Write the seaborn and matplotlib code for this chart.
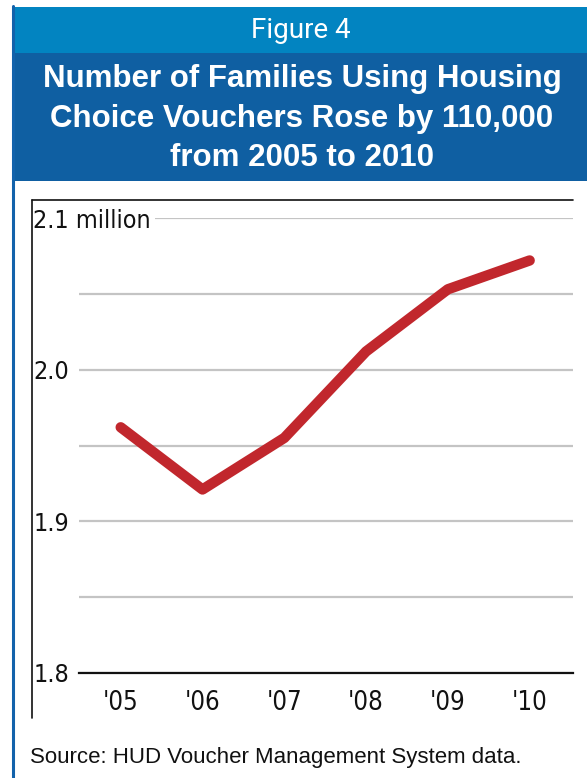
import pandas as pd
import matplotlib.pyplot as plt
import seaborn as sns
from matplotlib.patches import Rectangle
from matplotlib.lines import Line2D


# Families using housing choice vouchers (millions)
years = ["'05", "'06", "'07", "'08", "'09", "'10"]
families = [1.962, 1.921, 1.955, 2.012, 2.053, 2.072]
y_ticks = [1.8, 1.85, 1.9, 1.95, 2.0, 2.05, 2.1]
y_tick_labels = ['1.8', '', '1.9', '', '2.0', '', '2.1 million']

df = pd.DataFrame({'pos': range(len(years)), 'families': families})

W, H = 587, 778
sns.set_style('white')
plt.rcParams['font.family'] = ['DejaVu Sans']

fig = plt.figure(figsize=(W / 100, H / 100), dpi=100)


def fx(px):
    return px / W


def fy(py):
    return 1 - py / H


# header bands and borders
fig.patches.append(Rectangle((fx(12), fy(53)), fx(587 - 12), 46 / H, transform=fig.transFigure,
                             facecolor='#0284c1', edgecolor='none', zorder=0))
fig.patches.append(Rectangle((fx(12), fy(181)), fx(587 - 12), 128 / H, transform=fig.transFigure,
                             facecolor='#0f5fa2', edgecolor='none', zorder=0))
fig.lines.append(Line2D([fx(13), fx(13)], [fy(6), fy(778)], transform=fig.transFigure,
                        color='#1262ab', lw=2.2))
fig.lines.append(Line2D([fx(32), fx(573)], [fy(200), fy(200)], transform=fig.transFigure,
                        color='#111111', lw=1.2))
fig.lines.append(Line2D([fx(32), fx(32)], [fy(200), fy(718)], transform=fig.transFigure,
                        color='#111111', lw=1.2))

fig.text(fx(301), fy(31), 'Figure 4', color='white', fontsize=20, ha='center', va='center',
         family='Roboto')
fig.text(fx(302), fy(118.5), 'Number of Families Using Housing\nChoice Vouchers Rose by 110,000\nfrom 2005 to 2010',
         color='white', fontsize=22.5, fontweight='bold', ha='center', va='center',
         family='Liberation Sans', linespacing=1.42)
fig.text(fx(30), fy(758), 'Source: HUD Voucher Management System data.', fontsize=16,
         ha='left', va='center', family='Liberation Sans', color='#111111')

ax = fig.add_axes([fx(79), fy(673), fx(573 - 79), (673 - 218) / H])
sns.lineplot(data=df, x='pos', y='families', ax=ax, color='#c1272d', lw=7.5,
             solid_capstyle='round', solid_joinstyle='round', zorder=5)

ax.set_xlim(-0.51, 5.53)
ax.set_ylim(1.8, 2.1)
ax.set_xticks(range(len(years)))
ax.set_xticklabels(years)
ax.set_yticks(y_ticks)
ax.set_yticklabels(y_tick_labels)
ax.set_xlabel('')
ax.set_ylabel('')

for s in ['top', 'right', 'left']:
    ax.spines[s].set_visible(False)
ax.spines['bottom'].set_color('#111111')
ax.spines['bottom'].set_linewidth(1.6)

ax.grid(axis='y', color='#c4c4c4', lw=1.6)
ax.set_axisbelow(True)
ax.tick_params(axis='x', direction='in', length=7.5, width=1.4, color='#111111', pad=12,
               labelsize=18.5)
ax.tick_params(axis='y', length=0, pad=33, labelsize=18)
for lab in ax.get_xticklabels() + ax.get_yticklabels():
    lab.set_family('DejaVu Sans')
    lab.set_fontstretch('condensed')
    lab.set_color('#111111')
for lab in ax.get_yticklabels():
    lab.set_horizontalalignment('left')
ax.get_yticklabels()[-1].set_bbox(dict(facecolor='white', edgecolor='none', pad=3))

fig.savefig('out.png', dpi=100)
